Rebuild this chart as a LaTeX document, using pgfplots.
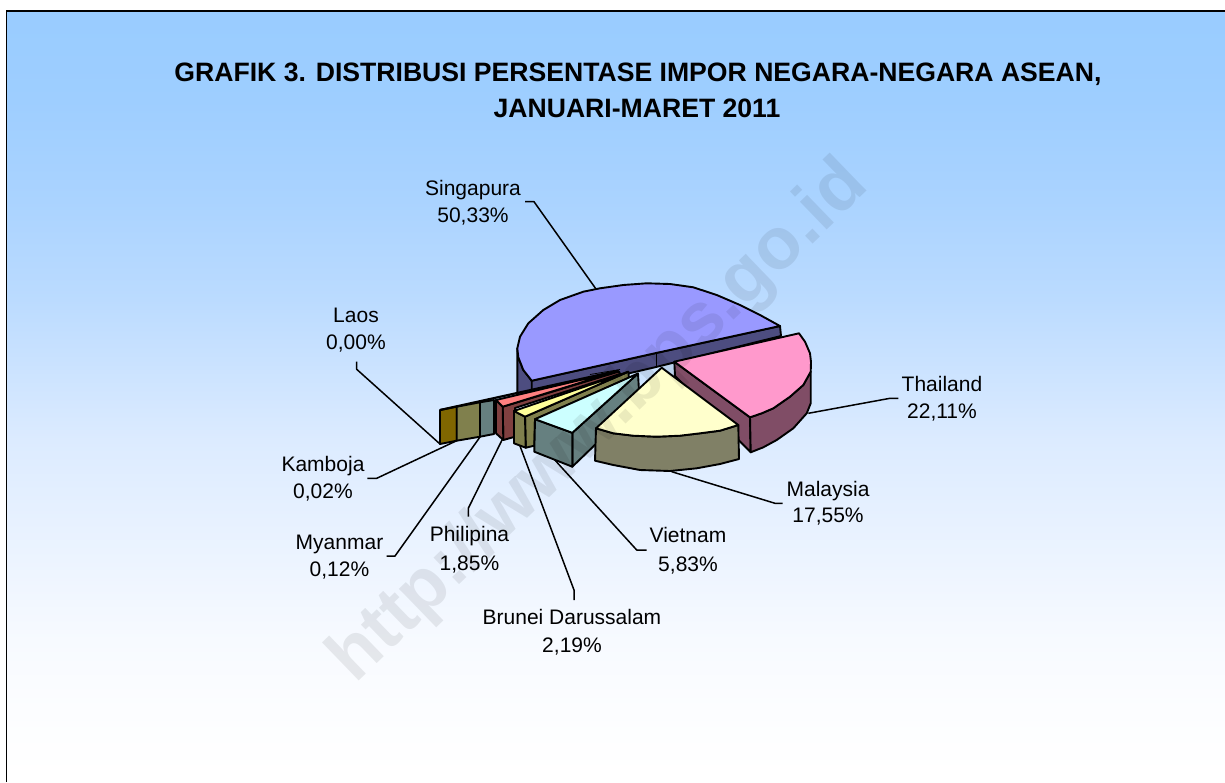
\documentclass[border=0pt]{standalone}
\usepackage{fontspec}
\setmainfont{Liberation Sans}
\usepackage{pgfplots}
\pgfplotsset{compat=1.18}
\definecolor{BgA}{HTML}{99CCFF}
\definecolor{BgB}{HTML}{9ECEFF}
\definecolor{BgC}{HTML}{AAD3FF}
\definecolor{BgD}{HTML}{BBDBFF}
\definecolor{BgE}{HTML}{DCEBFF}
\definecolor{BgF}{HTML}{F7FAFF}
\definecolor{BgG}{HTML}{FCFDFF}
\pgfdeclareverticalshading{chartbg}{100bp}{
  color(0bp)=(white); color(25.4bp)=(white); color(29.7bp)=(BgG);
  color(34.2bp)=(BgF); color(47.2bp)=(BgE); color(56.3bp)=(BgD);
  color(62.7bp)=(BgC); color(69.2bp)=(BgB); color(75bp)=(BgA); color(100bp)=(BgA)}
\definecolor{SgTop}{HTML}{9999FF}
\definecolor{SgWall}{HTML}{4D4D80}
\definecolor{ThTop}{HTML}{FF99CC}
\definecolor{ThWall}{HTML}{804D66}
\definecolor{MyTop}{HTML}{FFFFCC}
\definecolor{MyWall}{HTML}{808066}
\definecolor{VnTop}{HTML}{CCFFFF}
\definecolor{VnWall}{HTML}{668080}
\definecolor{BnTop}{HTML}{FFFF99}
\definecolor{BnWall}{HTML}{80804D}
\definecolor{PhTop}{HTML}{FF8080}
\definecolor{PhWall}{HTML}{804040}
\definecolor{LaWall}{HTML}{806600}
\pgfplotsset{
  face/.style={draw=black,line width=1.9pt,line join=round},
  leader/.style={draw=black,line width=1.5pt,line join=round},
}
\newcommand{\lbl}[3]{%
  \node[anchor=base,font=\fontsize{21}{21}\selectfont,inner sep=0pt] at (axis cs:#1,#2) {#3};}
\begin{document}
\begin{tikzpicture}
\begin{axis}[
    width=1225pt,height=782pt,scale only axis,
    xmin=0,xmax=1225,ymin=0,ymax=782,y dir=reverse,
    hide axis,
]
% page, background and frame
\addplot[fill=white,draw=none] coordinates {(0,0) (1225,0) (1225,782) (0,782)} --cycle;
\addplot[shading=chartbg,draw=none] coordinates {(6.5,11) (1225,11) (1225,782) (6.5,782)} --cycle;
\addplot[draw=black,line width=1.7pt] coordinates {(6.5,782) (6.5,11) (1225,11)};

% leader lines
\addplot[leader] coordinates {(525,201.7) (534,201.7) (596.7,290)};
\addplot[leader] coordinates {(356.7,361.7) (356.7,369.3) (440,444)};
\addplot[leader] coordinates {(367.3,478.3) (376.7,478.3) (456,441)};
\addplot[leader] coordinates {(386.7,556) (395,556) (480,437)};
\addplot[leader] coordinates {(468.3,516.7) (468.3,508.3) (503,438)};
\addplot[leader] coordinates {(574,600) (574,590) (520,446)};
\addplot[leader] coordinates {(646.7,550) (636.7,550) (553,458)};
\addplot[leader] coordinates {(782.7,503.3) (775,503.3) (671.7,471.7)};
\addplot[leader] coordinates {(898.3,398.3) (890,398.3) (808.3,413.3)};

% Singapura
\addplot[face,fill=SgWall] coordinates {(517.3,348.3) (517.3,395) (535,395) (531.7,380.7) (523.3,370) (518.3,357.3)} --cycle;
\addplot[face,fill=SgWall] coordinates {(531.7,380.7) (656,353) (780,326) (781,336) (656,367) (531.7,396)} --cycle;
\addplot[draw=black,line width=0.6pt] coordinates {(656,353) (656,367)};
\addplot[face,fill=SgTop] coordinates {
  (531.7,380.7) (523.3,370) (518.3,357.3) (517.3,348.3) (520,336.7) (528.3,323.3)
  (543.3,310) (560,300) (583.3,291.7) (600,288.3) (623.3,285) (646.7,283.3) (670,284)
  (693.3,287.3) (716.7,295) (740,305) (760,315) (780,326) (656,353)} --cycle;

% Laos, Kamboja, Myanmar
\addplot[face,fill=LaWall] coordinates {(440,410) (456.7,406.7) (456.7,440.7) (440,444)} --cycle;
\addplot[face,fill=BnWall] coordinates {(456.7,406.7) (480,402.3) (480,436.7) (456.7,440.7)} --cycle;
\addplot[face,fill=VnWall] coordinates {(480,402.3) (494,400) (494,434) (480,436.7)} --cycle;
\addplot[draw=black,line width=2.2pt] coordinates {(440,410) (618.3,370.7)};
\addplot[draw=black,line width=0.8pt] coordinates {(590,374.5) (620,369.5)};

% Philipina
\addplot[face,fill=PhWall] coordinates {(502.7,406.7) (619,371.5) (620,374) (515,408) (514,437) (503.3,440)} --cycle;
\addplot[face,fill=PhWall] coordinates {(496,400) (502.7,406.7) (503.3,440) (496,433.3)} --cycle;
\addplot[face,fill=PhTop] coordinates {(496,400) (618.3,371) (502.7,406.7)} --cycle;

% Brunei Darussalam
\addplot[face,fill=BnWall] coordinates {(525,416.7) (628.3,371.7) (629,378) (535,419.3) (534.3,445.7) (525.7,447.7)} --cycle;
\addplot[face,fill=BnWall] coordinates {(514,411) (525,416.7) (525.7,447.7) (514,443.3)} --cycle;
\addplot[face,fill=BnTop] coordinates {(514,411) (628.3,371.7) (525,416.7)} --cycle;

% Vietnam
\addplot[face,fill=VnWall] coordinates {(572.3,432.8) (638,373.5) (639,391) (600,440) (572.3,466.7)} --cycle;
\addplot[face,fill=VnWall] coordinates {(535,419.2) (572.3,432.8) (572.3,466.7) (534.3,451.7)} --cycle;
\addplot[face,fill=VnTop] coordinates {(535,419.2) (638,373.5) (572.3,432.8)} --cycle;

% Thailand
\addplot[face,fill=ThWall] coordinates {(674.3,361.7) (750,417.3) (750.7,452.3) (675,376)} --cycle;
\addplot[face,fill=ThWall] coordinates {
  (750,417.3) (761.7,413.3) (773.3,408.3) (790,396.7) (803.3,385) (810.7,371.7)
  (810.7,403.3) (806.7,413.3) (793.3,428.3) (776.7,440) (763.3,447.3) (750.7,452.3)} --cycle;
\addplot[face,fill=ThTop] coordinates {
  (674.3,361.7) (799,333.3) (805,341.7) (810,353.3) (811,362) (810.7,371.7) (803.3,385)
  (790,396.7) (773.3,408.3) (761.7,413.3) (750,417.3)} --cycle;

% Malaysia
\addplot[face,fill=MyWall] coordinates {
  (596,428.3) (613.3,433.3) (633.3,435.7) (656.7,436.7) (680,435.7) (700,433.3) (720,430.7) (738.3,425)
  (739,459) (720,464) (696.7,468.3) (670,471) (640,470) (613.3,465) (595,460.7)} --cycle;
\addplot[face,fill=MyTop] coordinates {
  (661.7,367.7) (738.3,425) (720,430.7) (700,433.3) (680,435.7) (656.7,436.7) (633.3,435.7) (613.3,433.3) (596,428.3)} --cycle;

% watermark
\node[rotate=44,text=black,text opacity=0.08,font=\fontsize{73}{73}\selectfont\bfseries,inner sep=0pt]
  at (axis cs:600,423) {http://www.bps.go.id};

% labels
\lbl{473}{195}{Singapura}
\lbl{473}{222.7}{50,33\%}
\lbl{356}{322}{Laos}
\lbl{356}{349}{0,00\%}
\lbl{323}{471}{Kamboja}
\lbl{323}{498}{0,02\%}
\lbl{339.5}{549}{Myanmar}
\lbl{339.5}{576.7}{0,12\%}
\lbl{469.5}{541}{Philipina}
\lbl{469.5}{570}{1,85\%}
\lbl{572}{624}{Brunei Darussalam}
\lbl{572}{652.7}{2,19\%}
\lbl{688}{542.7}{Vietnam}
\lbl{688}{571.7}{5,83\%}
\lbl{828}{496}{Malaysia}
\lbl{828}{522.3}{17,55\%}
\lbl{942}{391.7}{Thailand}
\lbl{942}{418}{22,11\%}

% title
\node[anchor=base,font=\fontsize{26.6}{26.6}\selectfont\bfseries,inner sep=0pt] at (axis cs:638,81)
  {GRAFIK 3. DISTRIBUSI PERSENTASE IMPOR NEGARA-NEGARA ASEAN,};
\node[anchor=base,font=\fontsize{26.6}{26.6}\selectfont\bfseries,inner sep=0pt] at (axis cs:637,117)
  {JANUARI-MARET 2011};
\end{axis}
\end{tikzpicture}
\end{document}
